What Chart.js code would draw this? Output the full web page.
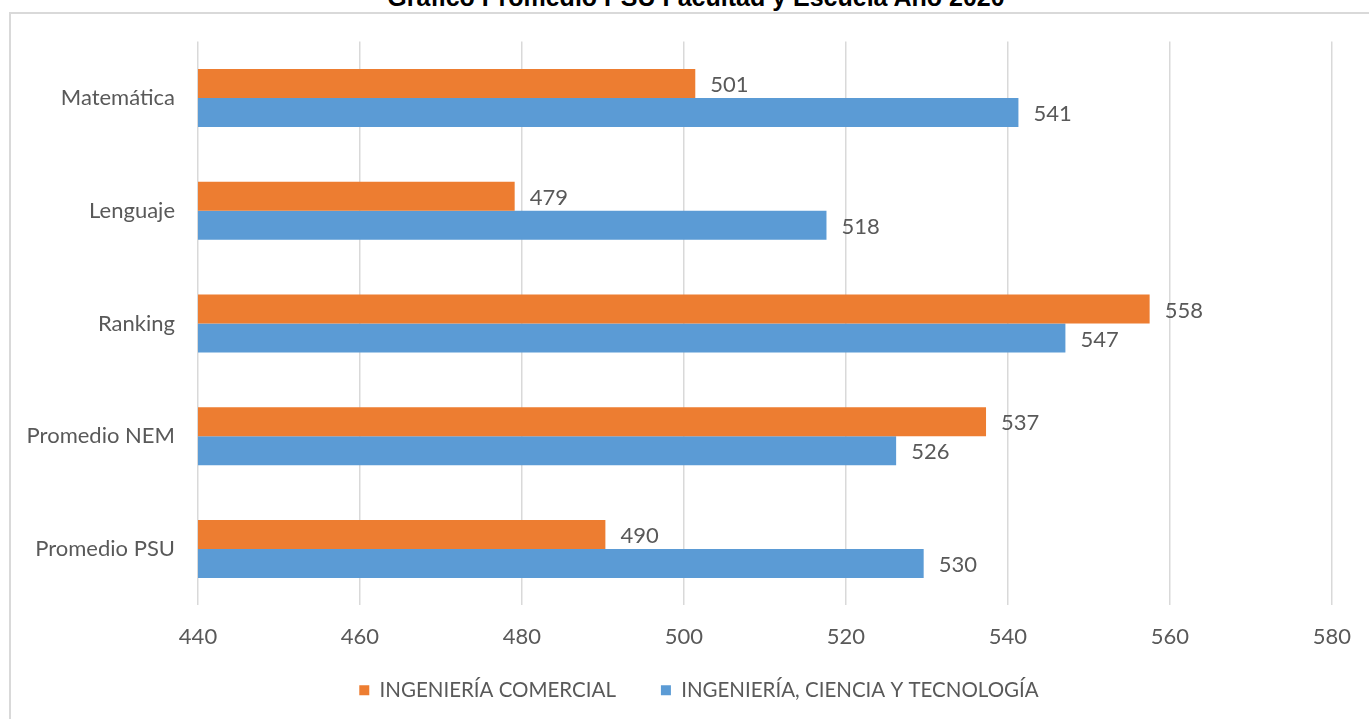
<!DOCTYPE html>
<html><head><meta charset="utf-8">
<script src="https://cdn.jsdelivr.net/npm/chart.js@4"></script>
<style>
html,body{margin:0;padding:0;width:1369px;height:719px;overflow:hidden;background:#fff;}
#frame{position:absolute;left:9px;top:12px;width:1400px;height:760px;border:2px solid #d9d9d9;box-sizing:border-box;}
#title{position:absolute;left:0;top:-14.6px;width:1392px;text-align:center;font:bold 25px "Liberation Sans";color:#000;line-height:25px;white-space:nowrap;}
#wrap{position:absolute;left:0;top:0;width:1369px;height:719px;}
</style></head>
<body>
<div id="frame"></div>
<div id="title">Gráfico Promedio PSU Facultad y Escuela Año 2020</div>
<div id="wrap"><canvas id="c"></canvas></div>
<script>
const categories = ["Matemática", "Lenguaje", "Ranking", "Promedio NEM", "Promedio PSU"];
const seriesNames = ["INGENIERÍA COMERCIAL", "INGENIERÍA, CIENCIA Y TECNOLOGÍA"];
const comercial = [501.4, 479.1, 557.5, 537.3, 490.3];
const ingCienciaTec = [541.3, 517.6, 547.1, 526.2, 529.6];
const xMin = 440, xMax = 580, xStep = 20;

const FONT = "Lato";
const TXT = "#595959";

const valueLabels = {
  id: "valueLabels",
  afterDatasetsDraw(chart) {
    const ctx = chart.ctx;
    ctx.save();
    ctx.font = "22px " + FONT;
    ctx.fillStyle = TXT;
    ctx.textAlign = "left";
    ctx.textBaseline = "middle";
    chart.data.datasets.forEach((ds, i) => {
      chart.getDatasetMeta(i).data.forEach((bar, j) => {
        ctx.fillText(String(Math.round(ds.data[j])), bar.x + 15, bar.y + 1.5);
      });
    });
    ctx.restore();
  }
};
const layoutTweak = {
  id: "layoutTweak",
  afterLayout(chart) {
    chart.legend.left += 31; chart.legend.right += 31;
    chart.scales.x.bottom += 40;
  }
};

new Chart(document.getElementById("c"), {
  type: "bar",
  data: {
    labels: categories,
    datasets: [
      { label: seriesNames[0], data: comercial, backgroundColor: "#ED7D31", categoryPercentage: 0.515, barPercentage: 1 },
      { label: seriesNames[1], data: ingCienciaTec, backgroundColor: "#5B9BD5", categoryPercentage: 0.515, barPercentage: 1 }
    ]
  },
  options: {
    indexAxis: "y",
    responsive: true,
    maintainAspectRatio: false,
    animation: false,
    layout: { padding: { top: 41.6, right: 33, bottom: 8.5, left: 0 } },
    plugins: {
      title: { display: false },
      tooltip: { enabled: false },
      legend: {
        position: "bottom",
        labels: { boxWidth: 10, boxHeight: 10, padding: 45, color: TXT, font: { family: FONT, size: 20.5 } }
      }
    },
    scales: {
      x: {
        min: xMin, max: xMax,
        ticks: { stepSize: xStep, color: TXT, font: { family: FONT, size: 22 }, padding: 18 },
        grid: { color: "#d9d9d9", drawTicks: false, lineWidth: 1.5 },
        border: { display: false },
        afterFit(s) { s.height = 29.6; }
      },
      y: {
        ticks: { color: TXT, font: { family: FONT, size: 22 }, padding: 23 },
        grid: { display: false, drawTicks: false },
        border: { display: false },
        afterFit(s) { s.width = 198; }
      }
    }
  },
  plugins: [valueLabels, layoutTweak]
});
</script>
</body></html>
